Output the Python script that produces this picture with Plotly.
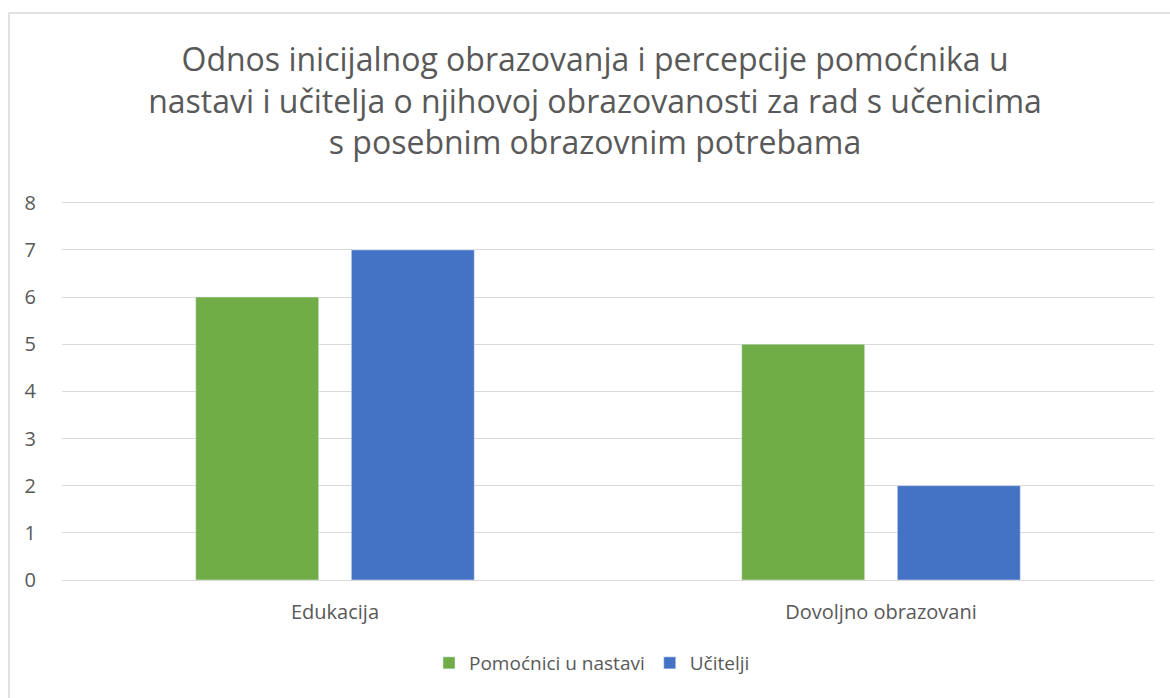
import plotly.graph_objects as go

categories = ["Edukacija", "Dovoljno obrazovani"]
pomocnici = [6, 5]
ucitelji = [7, 2]
series_names = ["Pomoćnici u nastavi", "Učitelji"]
title_text = ("Odnos inicijalnog obrazovanja i percepcije pomoćnika u<br>"
              "nastavi i učitelja o njihovoj obrazovanosti za rad s učenicima<br>"
              "s posebnim obrazovnim potrebama")

FONT = "Open Sans"
TXT = "#595959"

fig = go.Figure()
fig.add_bar(x=categories, y=pomocnici, name=series_names[0], marker_color="#70AD47")
fig.add_bar(x=categories, y=ucitelji, name=series_names[1], marker_color="#4472C4")

L, R, T, B = 62, 16, 198, 118
W, H = 1170, 698
pw = W - L - R
ph = H - T - B

fig.update_layout(
    width=W, height=H,
    margin=dict(l=L, r=R, t=T, b=B),
    paper_bgcolor="white", plot_bgcolor="white",
    barmode="group", bargap=0.43, bargroupgap=0.21,
    font=dict(family=FONT, color=TXT, size=20),
    title=dict(text=title_text, x=595 / W, xanchor="center", y=1 - 71 / H, yanchor="middle",
               font=dict(family=FONT, size=32, color=TXT)),
    legend=dict(orientation="h", x=(592 - L) / pw, xanchor="center", y=(H - B - 663) / ph,
                yanchor="middle", font=dict(size=19, color=TXT), itemwidth=30,
                traceorder="normal"),
    xaxis=dict(showgrid=False, showline=False, ticks="", ticklabelstandoff=18,
               tickfont=dict(size=20, color=TXT)),
    yaxis=dict(range=[0, 8.1], tickvals=list(range(0, 9)), showgrid=True,
               gridcolor="#D9D9D9", gridwidth=1,
               zeroline=True, zerolinecolor="#D9D9D9", zerolinewidth=1, showline=False,
               ticks="", ticklabelstandoff=25, tickfont=dict(size=20, color=TXT)),
    shapes=[dict(type="rect", xref="paper", yref="paper",
                 x0=(9 - L) / pw, x1=(1300 - L) / pw,
                 y0=(H - B - 800) / ph, y1=(H - B - 13) / ph,
                 line=dict(color="#D9D9D9", width=1.5), layer="below")],
)

fig.write_html("out.html", config={"displayModeBar": False},
               post_script="document.body.style.margin='0';document.body.style.overflow='hidden';")
